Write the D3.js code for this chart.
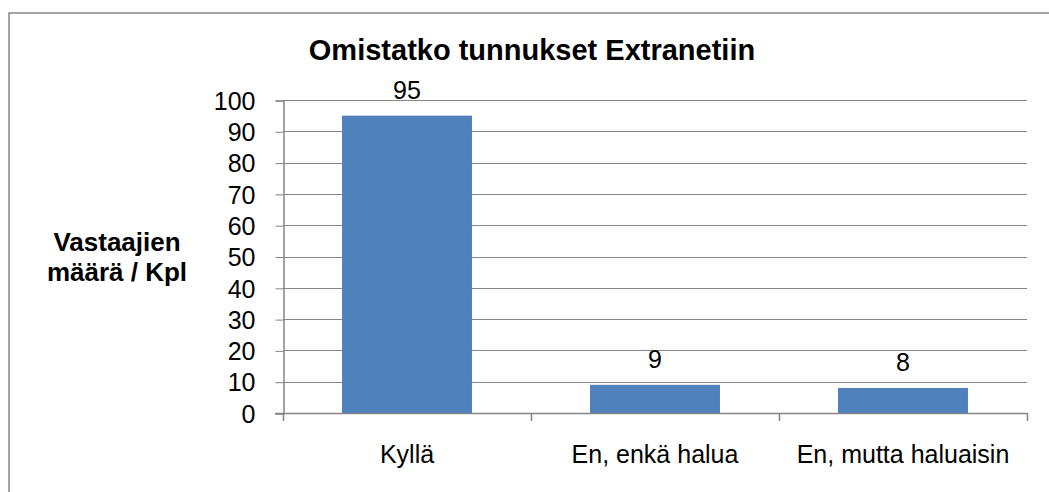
<!DOCTYPE html>
<html>
<head>
<meta charset="utf-8">
<script src="https://cdn.jsdelivr.net/npm/d3@7"></script>
<style>
  body { margin: 0; background: #fff; }
  text { font-family: Arial, "Liberation Sans", sans-serif; fill: #000; }
</style>
</head>
<body>
<div id="chart"></div>
<script>
// data
var categories = ["Kyllä", "En, enkä halua", "En, mutta haluaisin"];
var answers = [95, 9, 8];
var yTicks = [0, 10, 20, 30, 40, 50, 60, 70, 80, 90, 100];

var W = 1049, H = 492;
var plot = {left: 283, right: 1027, top: 100, bottom: 413};

var svg = d3.select("#chart").append("svg")
    .attr("width", W)
    .attr("height", H);

// outer frame (right and bottom edges are cut off in the picture)
svg.append("rect")
    .attr("x", 9).attr("y", 13)
    .attr("width", 1100).attr("height", 600)
    .attr("fill", "none")
    .attr("stroke", "#868686")
    .attr("stroke-width", 1.5);

var x = d3.scaleBand()
    .domain(categories)
    .range([plot.left, plot.right])
    .paddingInner(0.476)
    .paddingOuter(0.238);

var y = d3.scaleLinear()
    .domain([0, 100])
    .range([plot.bottom, plot.top]);

// gridlines
svg.append("g")
  .selectAll("line")
  .data(yTicks.slice(1))
  .enter().append("line")
    .attr("x1", plot.left).attr("x2", plot.right)
    .attr("y1", function(d) { return Math.round(y(d)) + 0.5; })
    .attr("y2", function(d) { return Math.round(y(d)) + 0.5; })
    .attr("stroke", "#868686");

// bars
svg.selectAll(".bar")
    .data(answers)
  .enter().append("rect")
    .attr("class", "bar")
    .attr("x", function(d, i) { return x(categories[i]); })
    .attr("width", x.bandwidth())
    .attr("y", function(d) { return y(d); })
    .attr("height", function(d) { return plot.bottom - y(d); })
    .attr("fill", "#4f81bd");

// y axis
var yAxis = d3.axisLeft(y).tickValues(yTicks).tickSize(8).tickPadding(20);
var gy = svg.append("g")
    .attr("transform", "translate(" + (plot.left + 0.5) + ",0.5)")
    .call(yAxis);
gy.select(".domain").attr("stroke", "#868686").attr("stroke-width", 1.5);
gy.selectAll(".tick line").attr("stroke", "#868686");
gy.selectAll(".tick text")
    .style("font-size", "25px")
    .attr("dy", "0.35em")
    .attr("fill", "#000");

// x axis line and ticks at band edges
svg.append("line")
    .attr("x1", plot.left - 8).attr("x2", plot.right)
    .attr("y1", plot.bottom + 0.5).attr("y2", plot.bottom + 0.5)
    .attr("stroke", "#868686").attr("stroke-width", 1.5);

var step = x.step();
var edges = categories.map(function(c) { return x(c) - step * x.paddingInner() / 2; });
edges.push(plot.right);
svg.append("g")
  .selectAll("line")
  .data(edges)
  .enter().append("line")
    .attr("x1", function(d) { return Math.round(d) + 0.5; })
    .attr("x2", function(d) { return Math.round(d) + 0.5; })
    .attr("y1", plot.bottom).attr("y2", plot.bottom + 8)
    .attr("stroke", "#868686").attr("stroke-width", 1.5);

// category labels
svg.append("g")
  .selectAll("text")
  .data(categories)
  .enter().append("text")
    .attr("x", function(d) { return x(d) + x.bandwidth() / 2; })
    .attr("y", 463)
    .attr("text-anchor", "middle")
    .style("font-size", "25px")
    .text(function(d) { return d; });

// value labels
svg.append("g")
  .selectAll("text")
  .data(answers)
  .enter().append("text")
    .attr("x", function(d, i) { return x(categories[i]) + x.bandwidth() / 2; })
    .attr("y", function(d) { return y(d) - 17; })
    .attr("text-anchor", "middle")
    .style("font-size", "25px")
    .text(function(d) { return d; });

// title
svg.append("text")
    .attr("x", 532).attr("y", 60)
    .attr("text-anchor", "middle")
    .style("font-size", "29px")
    .style("font-weight", "bold")
    .text("Omistatko tunnukset Extranetiin");

// y axis title
svg.append("text")
    .attr("x", 117).attr("y", 251)
    .attr("text-anchor", "middle")
    .style("font-size", "26px")
    .style("font-weight", "bold")
  .selectAll("tspan")
    .data(["Vastaajien", "määrä / Kpl"])
  .enter().append("tspan")
    .attr("x", 117)
    .attr("dy", function(d, i) { return i ? 30 : 0; })
    .text(function(d) { return d; });
</script>
</body>
</html>
